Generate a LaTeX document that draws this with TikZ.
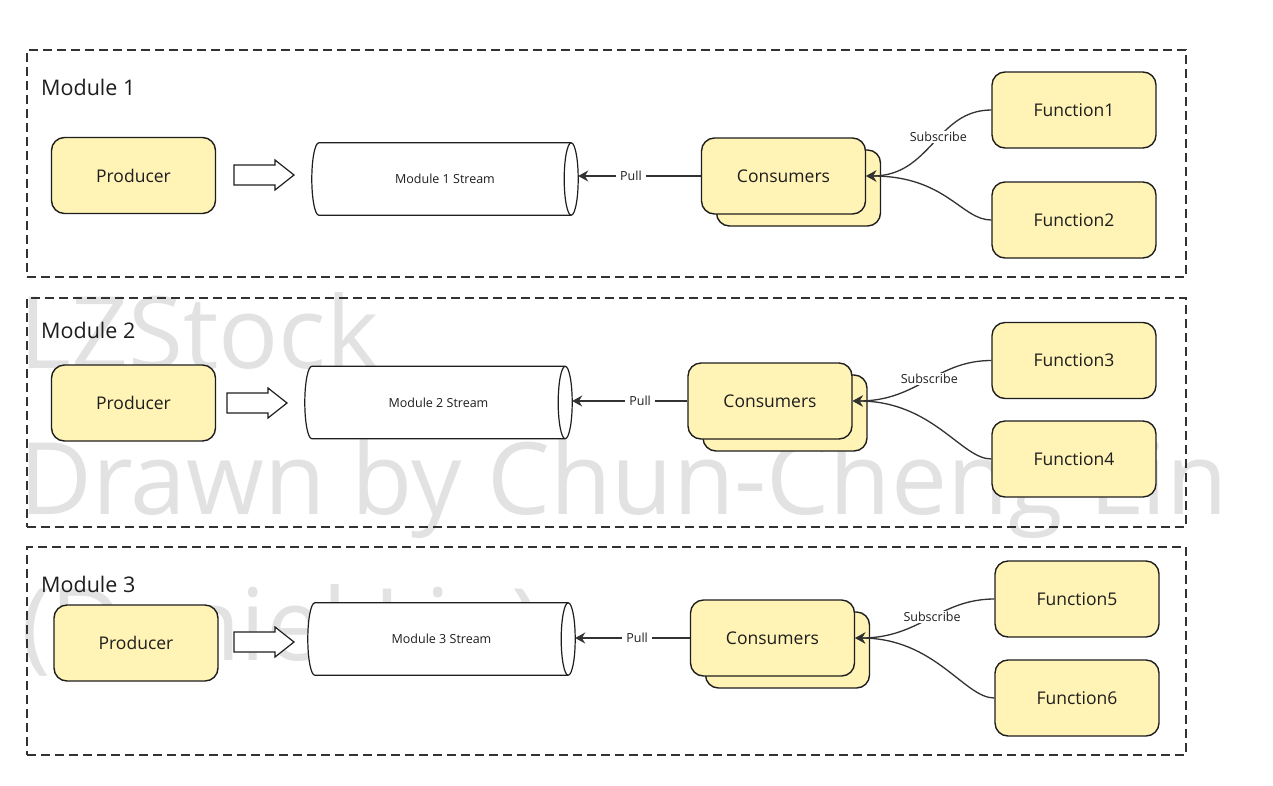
\documentclass[tikz,border=0pt]{standalone}
\usepackage{fontspec}
\setmainfont{Open Sans}
\usetikzlibrary{arrows.meta,calc}
\definecolor{boxfill}{RGB}{255,243,181}
\definecolor{ink}{RGB}{30,30,30}
\definecolor{wire}{RGB}{50,50,50}
\definecolor{wm}{RGB}{226,226,226}
\tikzset{
  box/.style={draw=ink, line width=1.4pt, fill=boxfill, rounded corners=13pt,
    minimum width=164pt, minimum height=76pt, inner sep=0pt,
    font=\fontsize{17.5}{21}\selectfont, text=ink},
  frame/.style={draw=wire, line width=1.2pt, dash pattern=on 9pt off 5pt, inner sep=0pt},
  modlabel/.style={anchor=base west, inner sep=0pt, font=\fontsize{21.5}{26}\selectfont, text=ink},
  streambox/.style={inner sep=0pt, minimum height=72pt},
  streamline/.style={draw=ink, line width=1.2pt},
  streamtxt/.style={inner sep=0pt, font=\fontsize{12.5}{15}\selectfont, text=ink},
  lbl/.style={font=\fontsize{12.5}{15}\selectfont, text=ink, fill=white, inner xsep=4pt, inner ysep=1pt},
  conn/.style={draw=wire, line width=1.3pt, -{Stealth[length=10pt,width=11pt]}},
  wmark/.style={anchor=base west, inner sep=0pt, text=wm, font=\fontsize{100}{120}\selectfont},
  hollow/.pic={\draw[draw=ink, line width=1.2pt, fill=white, line join=miter]
    (0,-10) -- (41,-10) -- (41,-15) -- (60,0) -- (41,15) -- (41,10) -- (0,10) -- cycle;}
}
\newcommand\streamnode[4]{%
  \node[streambox, minimum width=#3] (#1) at #2 {};
  \draw[streamline, fill=white]
    ($(#1.north west)+(7,0)$) -- ($(#1.north east)+(-7,0)$)
    .. controls +(3.87,0) and +(0,-19.9) .. (#1.east)
    .. controls +(0,19.9) and +(3.87,0) .. ($(#1.south east)+(-7,0)$)
    -- ($(#1.south west)+(7,0)$)
    .. controls +(-3.87,0) and +(0,19.9) .. (#1.west)
    .. controls +(0,-19.9) and +(-3.87,0) .. ($(#1.north west)+(7,0)$) -- cycle;
  \draw[streamline]
    ($(#1.north east)+(-7,0)$)
    .. controls +(-3.87,0) and +(0,-19.9) .. ($(#1.east)+(-14,0)$)
    .. controls +(0,19.9) and +(-3.87,0) .. ($(#1.south east)+(-7,0)$);
  \node[streamtxt] (#1t) at (#1) {#4};
}
\begin{document}
\begin{tikzpicture}[x=1pt,y=-1pt]
\fill[white] (0,0) rectangle (1273,785);
\useasboundingbox (0,0) rectangle (1273,785);

% watermark
\node[wmark] (wm1) at (19,368) {LZStock};
\node[wmark] (wm2) at (19,514) {Drawn by Chun-Cheng Lin};
\node[wmark] (wm3) at (21,660) {(Daniel Lin)};

% frames
\node[frame, minimum width=1159pt, minimum height=227pt] (m1) at (606.5,163.5) {};
\node[frame, minimum width=1159pt, minimum height=229pt] (m2) at (606.5,412.5) {};
\node[frame, minimum width=1159pt, minimum height=208pt] (m3) at (606.5,651) {};

\node[modlabel] (m1l) at (41,95) {Module 1};
\node[modlabel] (m2l) at (41,338) {Module 2};
\node[modlabel] (m3l) at (41,592) {Module 3};

% producers
\node[box] (p1) at (133.5,175.5) {Producer};
\node[box] (p2) at (133.5,403) {Producer};
\node[box] (p3) at (136,643) {Producer};

% hollow arrows
\pic (a1) at (234,175) {hollow};
\pic (a2) at (227,403) {hollow};
\pic (a3) at (234,642) {hollow};

% streams
\streamnode{s1}{(445,179)}{266pt}{Module 1 Stream}
\streamnode{s2}{(438.5,402.5)}{267pt}{Module 2 Stream}
\streamnode{s3}{(441.5,639)}{267pt}{Module 3 Stream}

% consumers
\node[box] (c1b) at (798.5,188) {};
\node[box] (c1) at (783.5,176) {Consumers};
\node[box] (c2b) at (785,413) {};
\node[box] (c2) at (770,401) {Consumers};
\node[box] (c3b) at (787.5,650) {};
\node[box] (c3) at (772.5,638) {Consumers};

% functions
\node[box] (f1) at (1074,110) {Function1};
\node[box] (f2) at (1074,220) {Function2};
\node[box] (f3) at (1074,360.5) {Function3};
\node[box] (f4) at (1074,459) {Function4};
\node[box] (f5) at (1077,599) {Function5};
\node[box] (f6) at (1077,698) {Function6};

% pull connectors
\draw[conn] (c1.west) -- (c1.west -| s1.east) node[lbl, pos=0.57] (pl1) {Pull};
\draw[conn] (c2.west) -- (c2.west -| s2.east) node[lbl, pos=0.41] (pl2) {Pull};
\draw[conn] (c3.west) -- (c3.west -| s3.east) node[lbl, pos=0.46] (pl3) {Pull};

% subscribe connectors
\draw[conn] (f1.west) .. controls +(-55,0) and +(65,0) .. (c1.east) node[lbl, pos=0.44] (sb1) {Subscribe};
\draw[conn] (f2.west) .. controls +(-30,0) and +(80,0) .. (c1.east);
\draw[conn] (f3.west) .. controls +(-55,0) and +(65,0) .. (c2.east) node[lbl, pos=0.47] (sb2) {Subscribe};
\draw[conn] (f4.west) .. controls +(-30,0) and +(80,0) .. (c2.east);
\draw[conn] (f5.west) .. controls +(-55,0) and +(65,0) .. (c3.east) node[lbl, pos=0.47] (sb3) {Subscribe};
\draw[conn] (f6.west) .. controls +(-30,0) and +(80,0) .. (c3.east);
\end{tikzpicture}
\end{document}
